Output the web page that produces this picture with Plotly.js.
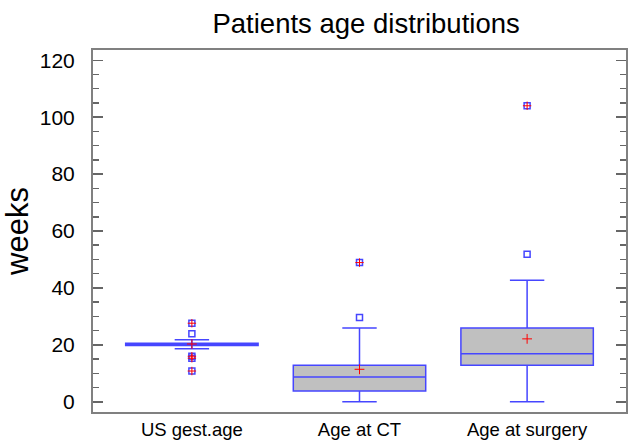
<!DOCTYPE html>
<html>
<head>
<meta charset="utf-8">
<script src="https://cdn.plot.ly/plotly-3.0.1.min.js"></script>
<style>html,body{margin:0;padding:0;background:#fff;}#chart{width:628px;height:442px;}</style>
</head>
<body>
<div id="chart"></div>
<script>
var categories = ['US gest.age', 'Age at CT', 'Age at surgery'];
var q1 = [19.8, 3.8, 12.8];
var median = [20.3, 8.7, 16.9];
var q3 = [20.6, 12.8, 25.9];
var lowerFence = [18.6, 0, 0];
var upperFence = [21.8, 25.9, 42.7];
var means = [20.3, 11.4, 22.1];
// all outliers (blue squares)
var outlierCat = ['US gest.age', 'US gest.age', 'US gest.age', 'US gest.age', 'US gest.age', 'Age at CT', 'Age at CT', 'Age at surgery', 'Age at surgery'];
var outlierVal = [27.6, 23.9, 16.0, 15.3, 10.8, 29.6, 48.9, 51.8, 104.0];
// far outliers (red plus inside)
var farCat = ['US gest.age', 'US gest.age', 'US gest.age', 'US gest.age', 'Age at CT', 'Age at surgery'];
var farVal = [27.6, 16.0, 15.3, 10.8, 48.9, 104.0];
var yTicks = [0, 20, 40, 60, 80, 100, 120];

var blue = 'rgb(70,70,255)';
var red = 'rgb(255,0,0)';

var traces = [
  {
    type: 'box',
    x: categories,
    q1: q1,
    median: median,
    q3: q3,
    lowerfence: lowerFence,
    upperfence: upperFence,
    boxpoints: false,
    fillcolor: 'rgb(192,192,192)',
    line: {color: blue, width: 1.5},
    whiskerwidth: 0.26,
    width: 0.79,
    hoverinfo: 'skip'
  },
  {
    type: 'scatter', mode: 'markers',
    x: outlierCat, y: outlierVal,
    marker: {symbol: 'square-open', size: 6, color: blue, line: {width: 1.5, color: blue}},
    hoverinfo: 'skip'
  },
  {
    type: 'scatter', mode: 'markers',
    x: farCat, y: farVal,
    marker: {symbol: 'cross-thin', size: 6, color: red, line: {width: 1, color: red}},
    hoverinfo: 'skip'
  },
  {
    type: 'scatter', mode: 'markers',
    x: categories, y: means,
    marker: {symbol: 'cross-thin', size: 7, color: red, line: {width: 1, color: red}},
    hoverinfo: 'skip'
  }
];

var layout = {
  width: 628, height: 442,
  margin: {l: 93, r: 2, t: 50, b: 30},
  paper_bgcolor: '#fff', plot_bgcolor: '#fff',
  showlegend: false,
  font: {family: 'Liberation Sans, Arial, sans-serif', color: '#000'},
  title: {
    text: 'Patients age distributions',
    font: {size: 27.5, color: '#000'},
    xref: 'container', x: 0.583, xanchor: 'center',
    yref: 'container', y: 0.948, yanchor: 'middle'
  },
  xaxis: {
    type: 'category',
    categoryorder: 'array', categoryarray: categories,
    range: [-0.59, 2.59],
    showline: true, linecolor: '#808080', linewidth: 2, mirror: true,
    ticks: '', showgrid: false, zeroline: false,
    tickfont: {size: 18.5, color: '#000'}
  },
  yaxis: {
    range: [-3.6, 123.6],
    tickvals: yTicks,
    ticks: 'inside', ticklen: 10, tickwidth: 1.5, tickcolor: '#666',
    minor: {dtick: 5, ticks: 'inside', ticklen: 6, tickwidth: 1.5, tickcolor: '#666'},
    showline: true, linecolor: '#808080', linewidth: 2, mirror: 'ticks',
    showgrid: false, zeroline: false,
    tickfont: {size: 21, color: '#000'},
    ticklabelstandoff: 12,
    title: {text: 'weeks', font: {size: 31, color: '#000'}, standoff: 5}
  }
};

Plotly.newPlot('chart', traces, layout, {staticPlot: true, displayModeBar: false});
</script>
</body>
</html>
